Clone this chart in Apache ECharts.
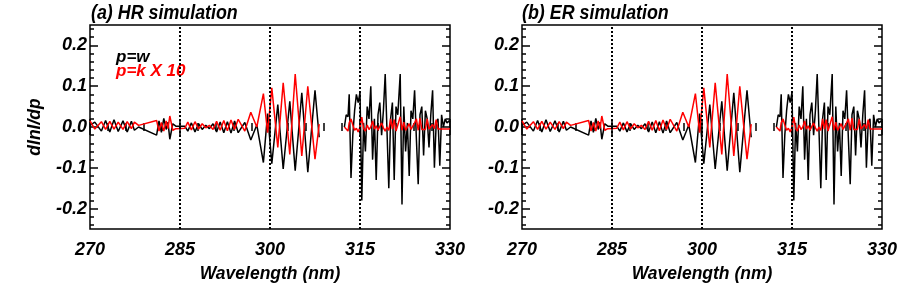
<!DOCTYPE html>
<html>
<head>
<meta charset="utf-8">
<script src="https://cdn.jsdelivr.net/npm/echarts@6/dist/echarts.min.js"></script>
<style>
html,body{margin:0;padding:0;background:#fff;}
#chart{width:900px;height:284px;}
</style>
</head>
<body>
<div id="chart"></div>
<script>
// ---- data ----
const wavelength = [
  270.0, 270.8, 271.9, 272.6, 273.3, 274.0, 274.7, 275.5, 276.2, 276.9, 277.4, 278.1,
  281.1, 281.5, 281.9, 282.3, 282.7, 283.0, 283.3, 283.8, 284.3,
  285.8, 286.3, 286.9, 287.5, 288.1, 288.7, 289.3, 289.9, 290.5, 291.1, 291.7, 292.3, 292.9, 293.5, 294.1, 294.7, 295.8, 296.8, 297.8,
  298.9, 299.6, 300.3, 301.3, 302.2, 303.3, 304.2, 305.3, 306.3, 307.5, 308.2,
  null,
  312.4, 312.7, 313.0, 313.2, 313.5, 313.8, 314.1, 314.4, 314.7, 315.0,
  315.3, 315.6, 315.9, 316.2, 316.5, 316.8, 317.1, 317.4, 317.7, 318.0,
  318.3, 318.6, 318.9, 319.2, 319.5, 319.8, 320.1, 320.4, 320.7, 321.0,
  321.3, 321.7, 322.0, 322.3, 322.6, 322.9, 323.2, 323.5, 323.8, 324.1,
  324.4, 324.7, 325.0, 325.3, 325.6, 325.9, 326.2, 326.5, 326.8, 327.1,
  327.4, 327.7, 328.0, 328.3, 328.6, 328.9, 329.2, 329.5, 329.8, 330.0
];
// p = w (black)
const dlnIdpW = [
  0.004, 0.012, -0.010, 0.016, -0.012, 0.018, -0.011, 0.015, -0.012, 0.014, -0.008, 0.000,
  -0.020, 0.015, -0.013, 0.021, -0.006, 0.012, -0.030, 0.008, 0.002,
  0.002, -0.010, 0.010, -0.012, 0.008, -0.006, 0.004, -0.004, 0.008, -0.012, 0.012, -0.014, 0.013, -0.015, 0.015, -0.014, 0.011, -0.032, 0.005,
  -0.087, 0.033, -0.090, 0.055, -0.103, 0.063, -0.107, 0.084, -0.111, 0.090, -0.025,
  null,
  0.000, 0.030, 0.025, 0.080, -0.125, -0.020, 0.040, 0.080, 0.060, 0.085,
  -0.180, 0.010, -0.060, 0.050, 0.020, 0.100, -0.080, 0.020, -0.130, 0.030,
  0.060, -0.020, 0.040, 0.130, -0.010, -0.150, 0.020, 0.060, -0.130, 0.050,
  0.030, 0.130, -0.190, 0.050, -0.060, 0.010, -0.120, 0.040, 0.020, 0.090,
  -0.030, -0.140, 0.030, 0.050, -0.070, 0.040, 0.020, -0.050, 0.030, 0.090,
  -0.100, 0.010, 0.020, -0.095, 0.030, 0.000, 0.020, 0.010, 0.015, 0.012
];
// p = k x 10 (red)
const dlnIdpK10 = [
  0.015, -0.005, 0.013, -0.006, 0.014, -0.005, 0.012, -0.006, 0.013, -0.004, 0.012, 0.004,
  0.016, -0.010, 0.011, -0.010, 0.015, -0.004, 0.027, -0.008, -0.004,
  -0.003, 0.012, -0.007, 0.013, -0.005, 0.008, -0.002, 0.004, -0.006, 0.014, -0.008, 0.016, -0.009, 0.017, -0.006, 0.019, -0.010, 0.036, 0.000,
  0.082, -0.014, 0.096, -0.050, 0.108, -0.067, 0.130, -0.071, 0.100, -0.079, 0.007,
  null,
  0.000, -0.003, -0.010, 0.010, 0.020, 0.005, -0.008, -0.003, -0.012, 0.000,
  0.024, -0.004, -0.010, 0.005, -0.006, 0.000, 0.015, -0.005, 0.003, -0.008,
  -0.004, 0.010, -0.002, -0.010, 0.000, -0.008, 0.020, -0.005, 0.018, -0.010,
  0.005, 0.025, -0.008, 0.012, -0.008, -0.005, 0.008, -0.006, -0.008, 0.010,
  0.020, -0.008, 0.022, -0.006, -0.008, -0.006, 0.020, -0.005, -0.008, 0.006,
  -0.004, 0.018, -0.005, -0.006, -0.005, -0.004, -0.005, -0.004, -0.005, -0.004
];
const panelTitles = ['(a) HR simulation', '(b) ER simulation'];
const yMajorTicks = [-0.2, -0.1, 0.0, 0.1, 0.2];
const yMinorTicks = [-0.24, -0.22, -0.18, -0.16, -0.14, -0.12, -0.08, -0.06, -0.04, -0.02,
                     0.02, 0.04, 0.06, 0.08, 0.12, 0.14, 0.16, 0.18, 0.22, 0.24];
const refLines = [285, 300, 315];
const legendLabels = ['p=w', 'p=k X 10'];

// ---- chart ----
const FONT = "'Liberation Sans', Arial, Helvetica, sans-serif";
const txt = { color: '#000', fontSize: 18, fontWeight: 'bold', fontStyle: 'italic', fontFamily: FONT };

// split into continuous segments at the null gap
function segments(arr) {
  const out = [[]];
  wavelength.forEach((x, i) => {
    if (x === null || arr[i] === null) { out.push([]); return; }
    out[out.length - 1].push([x, arr[i]]);
  });
  return out.filter(s => s.length);
}

const panels = [{ left: 90 }, { left: 522 }];
const grid = [], xAxis = [], yAxis = [], series = [];
const tickStyle = { color: '#000', width: 1.5 };

panels.forEach((p, i) => {
  grid.push({ left: p.left, top: 25, width: 360, height: 204, show: true,
              outerBoundsMode: 'none', containLabel: false,
              borderColor: '#000', borderWidth: 1.5, backgroundColor: 'transparent' });
  const xb = {
    gridIndex: i, type: 'value', min: 270, max: 330, interval: 15, position: 'bottom',
    axisLine: { show: false }, splitLine: { show: false },
    axisTick: { inside: true, length: 8, lineStyle: tickStyle },
    minorTick: { show: true, splitNumber: 5, length: 4, lineStyle: tickStyle },
    axisLabel: Object.assign({ margin: 12 }, txt),
    name: 'Wavelength (nm)', nameLocation: 'middle', nameGap: 36,
    nameTextStyle: Object.assign({}, txt, { fontSize: 17.5 })
  };
  const xt = {
    gridIndex: i, type: 'value', min: 270, max: 330, interval: 15, position: 'top',
    axisLine: { show: false }, splitLine: { show: false },
    axisTick: { inside: true, length: 8, lineStyle: tickStyle },
    minorTick: { show: true, splitNumber: 5, length: 4, lineStyle: tickStyle },
    axisLabel: { show: false }
  };
  xAxis.push(xb, xt);
  const yBase = { gridIndex: i, type: 'value', min: -0.25, max: 0.25,
                  axisLine: { show: false }, splitLine: { show: false } };
  yAxis.push(
    Object.assign({}, yBase, { position: 'left',
      axisTick: { inside: true, length: 8, lineStyle: tickStyle, customValues: yMajorTicks },
      axisLabel: Object.assign({ margin: 3, customValues: yMajorTicks,
        formatter: v => (Math.abs(v) < 1e-9 ? 0 : v).toFixed(1) }, txt) }),
    Object.assign({}, yBase, { position: 'left',
      axisTick: { inside: true, length: 4, lineStyle: tickStyle, customValues: yMinorTicks },
      axisLabel: { show: false } }),
    Object.assign({}, yBase, { position: 'right',
      axisTick: { inside: true, length: 8, lineStyle: tickStyle, customValues: yMajorTicks },
      axisLabel: { show: false } }),
    Object.assign({}, yBase, { position: 'right',
      axisTick: { inside: true, length: 4, lineStyle: tickStyle, customValues: yMinorTicks },
      axisLabel: { show: false } })
  );
  segments(dlnIdpW).forEach((seg, k) => series.push({
    type: 'line', xAxisIndex: 2 * i, yAxisIndex: 4 * i, data: seg,
    showSymbol: false, lineStyle: { color: '#000', width: 1.5 }, silent: true, z: 2,
    markLine: k === 0 ? { silent: true, symbol: 'none', label: { show: false },
      lineStyle: { color: '#000', type: [2, 2], width: 2 },
      data: refLines.map(v => ({ xAxis: v })) } : undefined
  }));
  segments(dlnIdpK10).forEach(seg => series.push({
    type: 'line', xAxisIndex: 2 * i, yAxisIndex: 4 * i, data: seg,
    showSymbol: false, lineStyle: { color: '#ff0000', width: 1.5 }, silent: true, z: 3
  }));
});

const titleFont = "italic bold 21px " + FONT;
const graphic = [
  { type: 'text', x: 91, y: 13, scaleX: 0.85, style: { text: panelTitles[0], verticalAlign: 'middle',
      font: titleFont, fill: '#000' } },
  { type: 'text', x: 522, y: 13, scaleX: 0.85, style: { text: panelTitles[1], verticalAlign: 'middle',
      font: titleFont, fill: '#000' } },
  { type: 'text', x: 116, y: 57, style: { text: legendLabels[0], verticalAlign: 'middle',
      font: "italic bold 17px " + FONT, fill: '#000' } },
  { type: 'text', x: 116, y: 71, style: { text: legendLabels[1], verticalAlign: 'middle',
      font: "italic bold 17px " + FONT, fill: '#ff0000' } },
  { type: 'text', x: 35, y: 127, rotation: Math.PI / 2, style: { text: 'dlnI/dp', align: 'center',
      verticalAlign: 'middle', font: "italic bold 17.5px " + FONT, fill: '#000' } }
];

const chart = echarts.init(document.getElementById('chart'), null, { renderer: 'canvas' });
chart.setOption({ animation: false, backgroundColor: '#fff', grid, xAxis, yAxis, series, graphic });
</script>
</body>
</html>
